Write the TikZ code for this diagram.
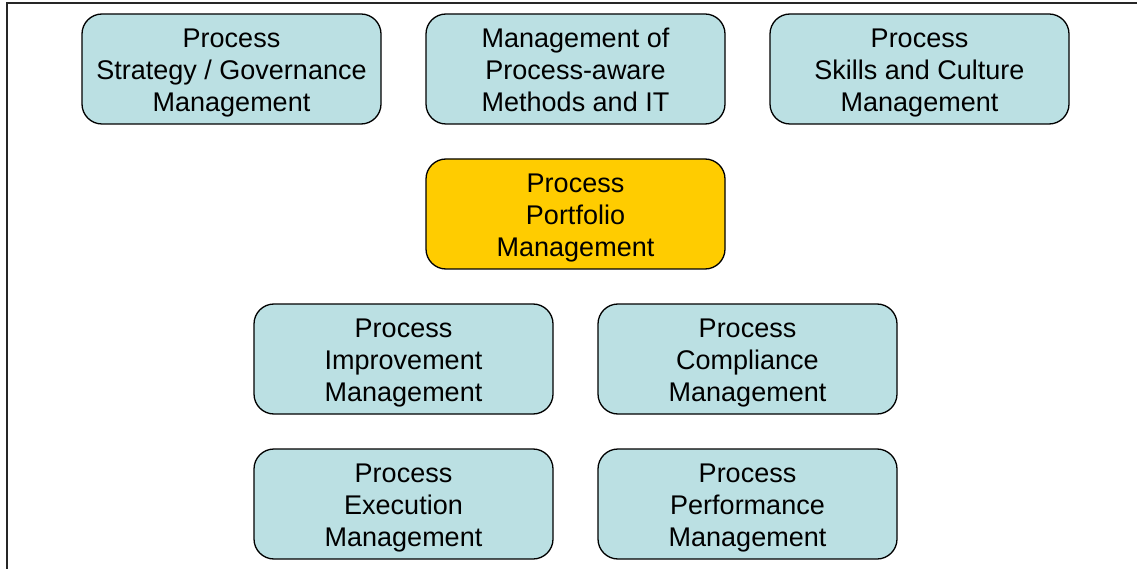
\documentclass[tikz,border=0pt]{standalone}
\usepackage{fontspec}
\setmainfont{Liberation Sans}
% struts that keep every three-line label on the same baselines
\newcommand\lblhead{\rule{0pt}{27.5pt}}
\newcommand\lbltail{\vphantom{g}}
\begin{document}
\begin{tikzpicture}[x=1pt,y=-1pt,
  area/.style={draw=black, line width=1.3pt, rounded corners=20pt, fill=tealfill,
    minimum width=299pt, minimum height=110pt, align=center,
    font=\fontsize{27pt}{32pt}\selectfont, inner sep=0pt},
  core/.style={area, fill=corefill}]
\definecolor{tealfill}{HTML}{BBE0E3}
\definecolor{corefill}{HTML}{FFCC00}
\useasboundingbox (0,0) rectangle (1137,569);
% frame edges
\draw[line width=2pt, black!85] (7,569) -- (7,3) -- (1137,3);
% top row
\node[area] (strategy) at (231.5,69) {\lblhead Process\\Strategy / Governance\\Management\lbltail};
\node[area] (methods) at (575.5,69) {\lblhead Management of\\Process-aware\\Methods and IT\lbltail};
\node[area] (skills) at (919.5,69) {\lblhead Process\\Skills and Culture\\Management\lbltail};
% centre
\node[core] (portfolio) at (575.5,214) {\lblhead Process\\Portfolio\\Management\lbltail};
% lower rows
\node[area] (improvement) at (403.5,359) {\lblhead Process\\Improvement\\Management\lbltail};
\node[area] (compliance) at (747.5,359) {\lblhead Process\\Compliance\\Management\lbltail};
\node[area] (execution) at (403.5,504) {\lblhead Process\\Execution\\Management\lbltail};
\node[area] (performance) at (747.5,504) {\lblhead Process\\Performance\\Management\lbltail};
\end{tikzpicture}
\end{document}
